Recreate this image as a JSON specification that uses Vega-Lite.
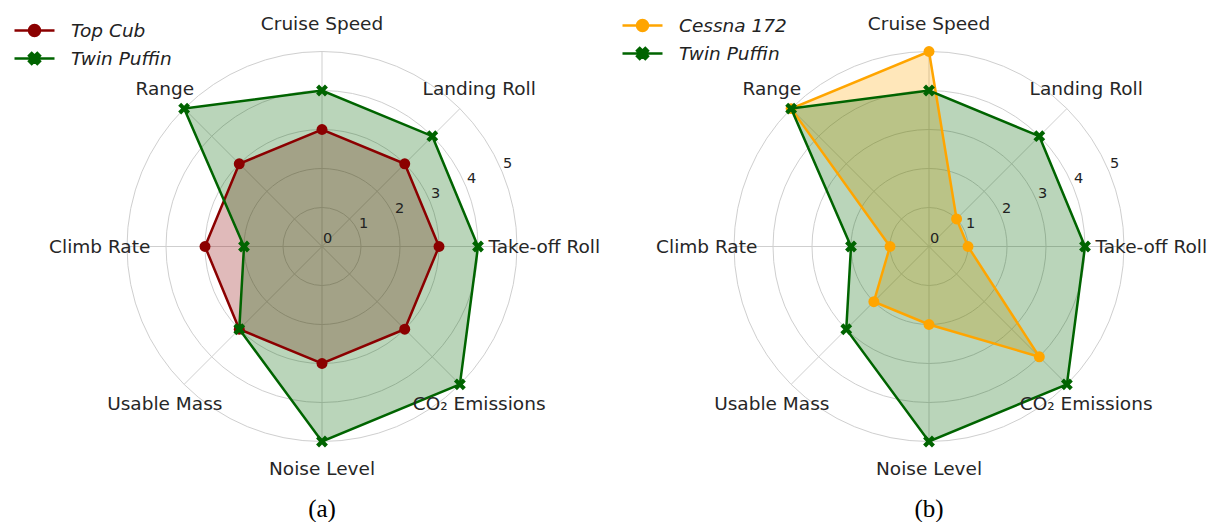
{
  "$schema": "https://vega.github.io/schema/vega-lite/v6.json",
  "padding": {"left": 23, "top": 5, "right": 0, "bottom": 0},
  "bounds": "flush",
  "spacing": 61,
  "background": "white",
  "config": {"view": {"stroke": null}},
  "datasets": {
    "rings": [{"r": 1}, {"r": 2}, {"r": 3}, {"r": 4}, {"r": 5}],
    "ticks": [{"t": 0}, {"t": 1}, {"t": 2}, {"t": 3}, {"t": 4}, {"t": 5}],
    "spokes": [
      {"i": 0, "r": 0}, {"i": 0, "r": 5},
      {"i": 1, "r": 0}, {"i": 1, "r": 5},
      {"i": 2, "r": 0}, {"i": 2, "r": 5},
      {"i": 3, "r": 0}, {"i": 3, "r": 5},
      {"i": 4, "r": 0}, {"i": 4, "r": 5},
      {"i": 5, "r": 0}, {"i": 5, "r": 5},
      {"i": 6, "r": 0}, {"i": 6, "r": 5},
      {"i": 7, "r": 0}, {"i": 7, "r": 5}
    ],
    "axes": [
      {"i": 0, "label": "Take-off Roll"},
      {"i": 1, "label": "Landing Roll"},
      {"i": 2, "label": "Cruise Speed"},
      {"i": 3, "label": "Range"},
      {"i": 4, "label": "Climb Rate"},
      {"i": 5, "label": "Usable Mass"},
      {"i": 6, "label": "Noise Level"},
      {"i": 7, "label": "CO₂ Emissions"}
    ],
    "scores": [
      {"panel": "a", "series": "Top Cub", "i": 0, "value": 3},
      {"panel": "a", "series": "Top Cub", "i": 1, "value": 3},
      {"panel": "a", "series": "Top Cub", "i": 2, "value": 3},
      {"panel": "a", "series": "Top Cub", "i": 3, "value": 3},
      {"panel": "a", "series": "Top Cub", "i": 4, "value": 3},
      {"panel": "a", "series": "Top Cub", "i": 5, "value": 3},
      {"panel": "a", "series": "Top Cub", "i": 6, "value": 3},
      {"panel": "a", "series": "Top Cub", "i": 7, "value": 3},
      {"panel": "a", "series": "Twin Puffin", "i": 0, "value": 4},
      {"panel": "a", "series": "Twin Puffin", "i": 1, "value": 4},
      {"panel": "a", "series": "Twin Puffin", "i": 2, "value": 4},
      {"panel": "a", "series": "Twin Puffin", "i": 3, "value": 5},
      {"panel": "a", "series": "Twin Puffin", "i": 4, "value": 2},
      {"panel": "a", "series": "Twin Puffin", "i": 5, "value": 3},
      {"panel": "a", "series": "Twin Puffin", "i": 6, "value": 5},
      {"panel": "a", "series": "Twin Puffin", "i": 7, "value": 5},
      {"panel": "b", "series": "Cessna 172", "i": 0, "value": 1},
      {"panel": "b", "series": "Cessna 172", "i": 1, "value": 1},
      {"panel": "b", "series": "Cessna 172", "i": 2, "value": 5},
      {"panel": "b", "series": "Cessna 172", "i": 3, "value": 5},
      {"panel": "b", "series": "Cessna 172", "i": 4, "value": 1},
      {"panel": "b", "series": "Cessna 172", "i": 5, "value": 2},
      {"panel": "b", "series": "Cessna 172", "i": 6, "value": 2},
      {"panel": "b", "series": "Cessna 172", "i": 7, "value": 4},
      {"panel": "b", "series": "Twin Puffin", "i": 0, "value": 4},
      {"panel": "b", "series": "Twin Puffin", "i": 1, "value": 4},
      {"panel": "b", "series": "Twin Puffin", "i": 2, "value": 4},
      {"panel": "b", "series": "Twin Puffin", "i": 3, "value": 5},
      {"panel": "b", "series": "Twin Puffin", "i": 4, "value": 2},
      {"panel": "b", "series": "Twin Puffin", "i": 5, "value": 3},
      {"panel": "b", "series": "Twin Puffin", "i": 6, "value": 5},
      {"panel": "b", "series": "Twin Puffin", "i": 7, "value": 5}
    ]
  },
  "hconcat": [
    {
      "width": 546,
      "height": 483,
      "title": {"text": "(a)", "orient": "bottom", "font": "Liberation Serif", "fontSize": 25, "fontWeight": "normal", "color": "#000000", "offset": 9},
      "layer": [
        {
          "data": {"name": "rings"},
          "mark": {"type": "point", "shape": "circle", "filled": false, "stroke": "#cfcfcf", "strokeWidth": 1, "opacity": 1},
          "encoding": {
            "x": {"datum": 0, "type": "quantitative", "scale": {"domain": [-7, 7], "nice": false, "zero": false}, "axis": null},
            "y": {"datum": 0, "type": "quantitative", "scale": {"domain": [-6.1923077, 6.1923077], "nice": false, "zero": false}, "axis": null},
            "size": {"field": "r", "type": "quantitative", "scale": {"type": "pow", "exponent": 2, "domain": [0, 5], "range": [0, 152100], "zero": true}, "legend": null}
          }
        },
        {
          "data": {"name": "spokes"},
          "transform": [
            {"calculate": "datum.r*cos(datum.i*PI/4)", "as": "sx"},
            {"calculate": "datum.r*sin(datum.i*PI/4)", "as": "sy"}
          ],
          "mark": {"type": "line", "stroke": "#cfcfcf", "strokeWidth": 1},
          "encoding": {
            "x": {"field": "sx", "type": "quantitative", "scale": {"domain": [-7, 7], "nice": false, "zero": false}, "axis": null},
            "y": {"field": "sy", "type": "quantitative", "scale": {"domain": [-6.1923077, 6.1923077], "nice": false, "zero": false}, "axis": null},
            "detail": {"field": "i", "type": "nominal"},
            "order": {"field": "r", "type": "quantitative"}
          }
        },
        {
          "data": {"name": "scores"},
          "transform": [
            {"filter": "datum.panel === 'a'"},
            {"calculate": "datum.value*cos(datum.i*PI/4)", "as": "px"},
            {"calculate": "datum.value*sin(datum.i*PI/4)", "as": "py"}
          ],
          "encoding": {
            "x": {"field": "px", "type": "quantitative", "scale": {"domain": [-7, 7], "nice": false, "zero": false}, "axis": null},
            "y": {"field": "py", "type": "quantitative", "scale": {"domain": [-6.1923077, 6.1923077], "nice": false, "zero": false}, "axis": null}
          },
          "layer": [
            {
              "transform": [{"filter": "datum.series === 'Top Cub'"}],
              "mark": {"type": "line", "interpolate": "linear-closed", "strokeWidth": 0, "strokeOpacity": 0, "fillOpacity": 0.27},
              "encoding": {"order": {"field": "i", "type": "quantitative"}, "fill": {"value": "#8b0000"}}
            },
            {
              "transform": [{"filter": "datum.series === 'Twin Puffin'"}],
              "mark": {"type": "line", "interpolate": "linear-closed", "strokeWidth": 0, "strokeOpacity": 0, "fillOpacity": 0.27},
              "encoding": {"order": {"field": "i", "type": "quantitative"}, "fill": {"value": "#006400"}}
            },
            {
              "transform": [{"filter": "datum.series === 'Top Cub'"}],
              "mark": {"type": "line", "interpolate": "linear-closed", "strokeWidth": 2.5, "color": "#8b0000"},
              "encoding": {"order": {"field": "i", "type": "quantitative"}}
            },
            {
              "transform": [{"filter": "datum.series === 'Top Cub'"}],
              "mark": {"type": "point", "filled": true, "shape": "circle", "size": 120, "color": "#8b0000", "opacity": 1}
            },
            {
              "transform": [{"filter": "datum.series === 'Twin Puffin'"}],
              "mark": {"type": "line", "interpolate": "linear-closed", "strokeWidth": 2.5, "color": "#006400"},
              "encoding": {"order": {"field": "i", "type": "quantitative"}}
            },
            {
              "transform": [{"filter": "datum.series === 'Twin Puffin'"}],
              "mark": {"type": "point", "filled": true, "shape": "M-1,-0.5L-0.5,-1L0,-0.5L0.5,-1L1,-0.5L0.5,0L1,0.5L0.5,1L0,0.5L-0.5,1L-1,0.5L-0.5,0Z", "size": 140, "color": "#006400", "opacity": 1}
            },
            {
              "transform": [{"filter": "false"}],
              "mark": {"type": "point", "filled": true, "strokeWidth": 2.5, "opacity": 1},
              "encoding": {
                "color": {"field": "series", "type": "nominal", "scale": {"domain": ["Top Cub", "Twin Puffin"], "range": ["#8b0000", "#006400"]},
                  "legend": {"title": null, "orient": "none", "legendX": -26, "legendY": 14, "padding": 0, "labelFont": "DejaVu Sans", "labelFontSize": 18.5, "labelFontStyle": "italic", "labelColor": "#222222", "labelOffset": 25, "rowPadding": 6, "symbolSize": 400, "symbolStrokeWidth": 2.5, "symbolOpacity": 1}},
                "stroke": {"field": "series", "type": "nominal", "scale": {"domain": ["Top Cub", "Twin Puffin"], "range": ["#8b0000", "#006400"]},
                  "legend": {"title": null, "orient": "none", "legendX": -26, "legendY": 14, "padding": 0, "labelFont": "DejaVu Sans", "labelFontSize": 18.5, "labelFontStyle": "italic", "labelColor": "#222222", "labelOffset": 25, "rowPadding": 6, "symbolSize": 400, "symbolStrokeWidth": 2.5, "symbolOpacity": 1}},
                "shape": {"field": "series", "type": "nominal", "scale": {"domain": ["Top Cub", "Twin Puffin"], "range": ["M-2,0L2,0M0.55,0A0.55,0.55,0,1,1,-0.55,0A0.55,0.55,0,1,1,0.55,0Z", "M-2,0L2,0M-0.55,-0.28L-0.28,-0.55L0,-0.28L0.28,-0.55L0.55,-0.28L0.28,0L0.55,0.28L0.28,0.55L0,0.28L-0.28,0.55L-0.55,0.28L-0.28,0Z"]},
                  "legend": {"title": null, "orient": "none", "legendX": -26, "legendY": 14, "padding": 0, "labelFont": "DejaVu Sans", "labelFontSize": 18.5, "labelFontStyle": "italic", "labelColor": "#222222", "labelOffset": 25, "rowPadding": 6, "symbolSize": 400, "symbolStrokeWidth": 2.5, "symbolOpacity": 1}}
              }
            }
          ]
        },
        {
          "data": {"name": "axes"},
          "transform": [
            {"calculate": "5.7*cos(datum.i*PI/4)", "as": "lx"},
            {"calculate": "5.7*sin(datum.i*PI/4)", "as": "ly"}
          ],
          "mark": {"type": "text", "font": "DejaVu Sans", "fontSize": 18.5, "color": "#262626", "align": "center", "baseline": "middle"},
          "encoding": {
            "x": {"field": "lx", "type": "quantitative", "scale": {"domain": [-7, 7], "nice": false, "zero": false}, "axis": null},
            "y": {"field": "ly", "type": "quantitative", "scale": {"domain": [-6.1923077, 6.1923077], "nice": false, "zero": false}, "axis": null},
            "text": {"field": "label", "type": "nominal"}
          }
        },
        {
          "data": {"name": "ticks"},
          "transform": [
            {"calculate": "datum.t*cos(PI/8)", "as": "tx"},
            {"calculate": "datum.t*sin(PI/8)", "as": "ty"}
          ],
          "mark": {"type": "text", "font": "DejaVu Sans", "fontSize": 14.5, "color": "#222222", "align": "center", "baseline": "middle", "dx": 5.5, "dy": -7.5},
          "encoding": {
            "x": {"field": "tx", "type": "quantitative", "scale": {"domain": [-7, 7], "nice": false, "zero": false}, "axis": null},
            "y": {"field": "ty", "type": "quantitative", "scale": {"domain": [-6.1923077, 6.1923077], "nice": false, "zero": false}, "axis": null},
            "text": {"field": "t", "type": "quantitative"}
          }
        }
      ]
    },
    {
      "width": 546,
      "height": 483,
      "title": {"text": "(b)", "orient": "bottom", "font": "Liberation Serif", "fontSize": 25, "fontWeight": "normal", "color": "#000000", "offset": 9},
      "layer": [
        {
          "data": {"name": "rings"},
          "mark": {"type": "point", "shape": "circle", "filled": false, "stroke": "#cfcfcf", "strokeWidth": 1, "opacity": 1},
          "encoding": {
            "x": {"datum": 0, "type": "quantitative", "scale": {"domain": [-7, 7], "nice": false, "zero": false}, "axis": null},
            "y": {"datum": 0, "type": "quantitative", "scale": {"domain": [-6.1923077, 6.1923077], "nice": false, "zero": false}, "axis": null},
            "size": {"field": "r", "type": "quantitative", "scale": {"type": "pow", "exponent": 2, "domain": [0, 5], "range": [0, 152100], "zero": true}, "legend": null}
          }
        },
        {
          "data": {"name": "spokes"},
          "transform": [
            {"calculate": "datum.r*cos(datum.i*PI/4)", "as": "sx"},
            {"calculate": "datum.r*sin(datum.i*PI/4)", "as": "sy"}
          ],
          "mark": {"type": "line", "stroke": "#cfcfcf", "strokeWidth": 1},
          "encoding": {
            "x": {"field": "sx", "type": "quantitative", "scale": {"domain": [-7, 7], "nice": false, "zero": false}, "axis": null},
            "y": {"field": "sy", "type": "quantitative", "scale": {"domain": [-6.1923077, 6.1923077], "nice": false, "zero": false}, "axis": null},
            "detail": {"field": "i", "type": "nominal"},
            "order": {"field": "r", "type": "quantitative"}
          }
        },
        {
          "data": {"name": "scores"},
          "transform": [
            {"filter": "datum.panel === 'b'"},
            {"calculate": "datum.value*cos(datum.i*PI/4)", "as": "px"},
            {"calculate": "datum.value*sin(datum.i*PI/4)", "as": "py"}
          ],
          "encoding": {
            "x": {"field": "px", "type": "quantitative", "scale": {"domain": [-7, 7], "nice": false, "zero": false}, "axis": null},
            "y": {"field": "py", "type": "quantitative", "scale": {"domain": [-6.1923077, 6.1923077], "nice": false, "zero": false}, "axis": null}
          },
          "layer": [
            {
              "transform": [{"filter": "datum.series === 'Cessna 172'"}],
              "mark": {"type": "line", "interpolate": "linear-closed", "strokeWidth": 0, "strokeOpacity": 0, "fillOpacity": 0.27},
              "encoding": {"order": {"field": "i", "type": "quantitative"}, "fill": {"value": "#ffa500"}}
            },
            {
              "transform": [{"filter": "datum.series === 'Twin Puffin'"}],
              "mark": {"type": "line", "interpolate": "linear-closed", "strokeWidth": 0, "strokeOpacity": 0, "fillOpacity": 0.27},
              "encoding": {"order": {"field": "i", "type": "quantitative"}, "fill": {"value": "#006400"}}
            },
            {
              "transform": [{"filter": "datum.series === 'Cessna 172'"}],
              "mark": {"type": "line", "interpolate": "linear-closed", "strokeWidth": 2.5, "color": "#ffa500"},
              "encoding": {"order": {"field": "i", "type": "quantitative"}}
            },
            {
              "transform": [{"filter": "datum.series === 'Cessna 172'"}],
              "mark": {"type": "point", "filled": true, "shape": "circle", "size": 120, "color": "#ffa500", "opacity": 1}
            },
            {
              "transform": [{"filter": "datum.series === 'Twin Puffin'"}],
              "mark": {"type": "line", "interpolate": "linear-closed", "strokeWidth": 2.5, "color": "#006400"},
              "encoding": {"order": {"field": "i", "type": "quantitative"}}
            },
            {
              "transform": [{"filter": "datum.series === 'Twin Puffin'"}],
              "mark": {"type": "point", "filled": true, "shape": "M-1,-0.5L-0.5,-1L0,-0.5L0.5,-1L1,-0.5L0.5,0L1,0.5L0.5,1L0,0.5L-0.5,1L-1,0.5L-0.5,0Z", "size": 140, "color": "#006400", "opacity": 1}
            },
            {
              "transform": [{"filter": "false"}],
              "mark": {"type": "point", "filled": true, "strokeWidth": 2.5, "opacity": 1},
              "encoding": {
                "color": {"field": "series", "type": "nominal", "scale": {"domain": ["Cessna 172", "Twin Puffin"], "range": ["#ffa500", "#006400"]},
                  "legend": {"title": null, "orient": "none", "legendX": -25, "legendY": 9, "padding": 0, "labelFont": "DejaVu Sans", "labelFontSize": 18.5, "labelFontStyle": "italic", "labelColor": "#222222", "labelOffset": 25, "rowPadding": 6, "symbolSize": 400, "symbolStrokeWidth": 2.5, "symbolOpacity": 1}},
                "stroke": {"field": "series", "type": "nominal", "scale": {"domain": ["Cessna 172", "Twin Puffin"], "range": ["#ffa500", "#006400"]},
                  "legend": {"title": null, "orient": "none", "legendX": -25, "legendY": 9, "padding": 0, "labelFont": "DejaVu Sans", "labelFontSize": 18.5, "labelFontStyle": "italic", "labelColor": "#222222", "labelOffset": 25, "rowPadding": 6, "symbolSize": 400, "symbolStrokeWidth": 2.5, "symbolOpacity": 1}},
                "shape": {"field": "series", "type": "nominal", "scale": {"domain": ["Cessna 172", "Twin Puffin"], "range": ["M-2,0L2,0M0.55,0A0.55,0.55,0,1,1,-0.55,0A0.55,0.55,0,1,1,0.55,0Z", "M-2,0L2,0M-0.55,-0.28L-0.28,-0.55L0,-0.28L0.28,-0.55L0.55,-0.28L0.28,0L0.55,0.28L0.28,0.55L0,0.28L-0.28,0.55L-0.55,0.28L-0.28,0Z"]},
                  "legend": {"title": null, "orient": "none", "legendX": -25, "legendY": 9, "padding": 0, "labelFont": "DejaVu Sans", "labelFontSize": 18.5, "labelFontStyle": "italic", "labelColor": "#222222", "labelOffset": 25, "rowPadding": 6, "symbolSize": 400, "symbolStrokeWidth": 2.5, "symbolOpacity": 1}}
              }
            }
          ]
        },
        {
          "data": {"name": "axes"},
          "transform": [
            {"calculate": "5.7*cos(datum.i*PI/4)", "as": "lx"},
            {"calculate": "5.7*sin(datum.i*PI/4)", "as": "ly"}
          ],
          "mark": {"type": "text", "font": "DejaVu Sans", "fontSize": 18.5, "color": "#262626", "align": "center", "baseline": "middle"},
          "encoding": {
            "x": {"field": "lx", "type": "quantitative", "scale": {"domain": [-7, 7], "nice": false, "zero": false}, "axis": null},
            "y": {"field": "ly", "type": "quantitative", "scale": {"domain": [-6.1923077, 6.1923077], "nice": false, "zero": false}, "axis": null},
            "text": {"field": "label", "type": "nominal"}
          }
        },
        {
          "data": {"name": "ticks"},
          "transform": [
            {"calculate": "datum.t*cos(PI/8)", "as": "tx"},
            {"calculate": "datum.t*sin(PI/8)", "as": "ty"}
          ],
          "mark": {"type": "text", "font": "DejaVu Sans", "fontSize": 14.5, "color": "#222222", "align": "center", "baseline": "middle", "dx": 5.5, "dy": -7.5},
          "encoding": {
            "x": {"field": "tx", "type": "quantitative", "scale": {"domain": [-7, 7], "nice": false, "zero": false}, "axis": null},
            "y": {"field": "ty", "type": "quantitative", "scale": {"domain": [-6.1923077, 6.1923077], "nice": false, "zero": false}, "axis": null},
            "text": {"field": "t", "type": "quantitative"}
          }
        }
      ]
    }
  ],
  "resolve": {"scale": {"color": "independent", "stroke": "independent", "shape": "independent", "size": "independent", "x": "independent", "y": "independent"}, "legend": {"color": "independent", "stroke": "independent", "shape": "independent"}}
}
